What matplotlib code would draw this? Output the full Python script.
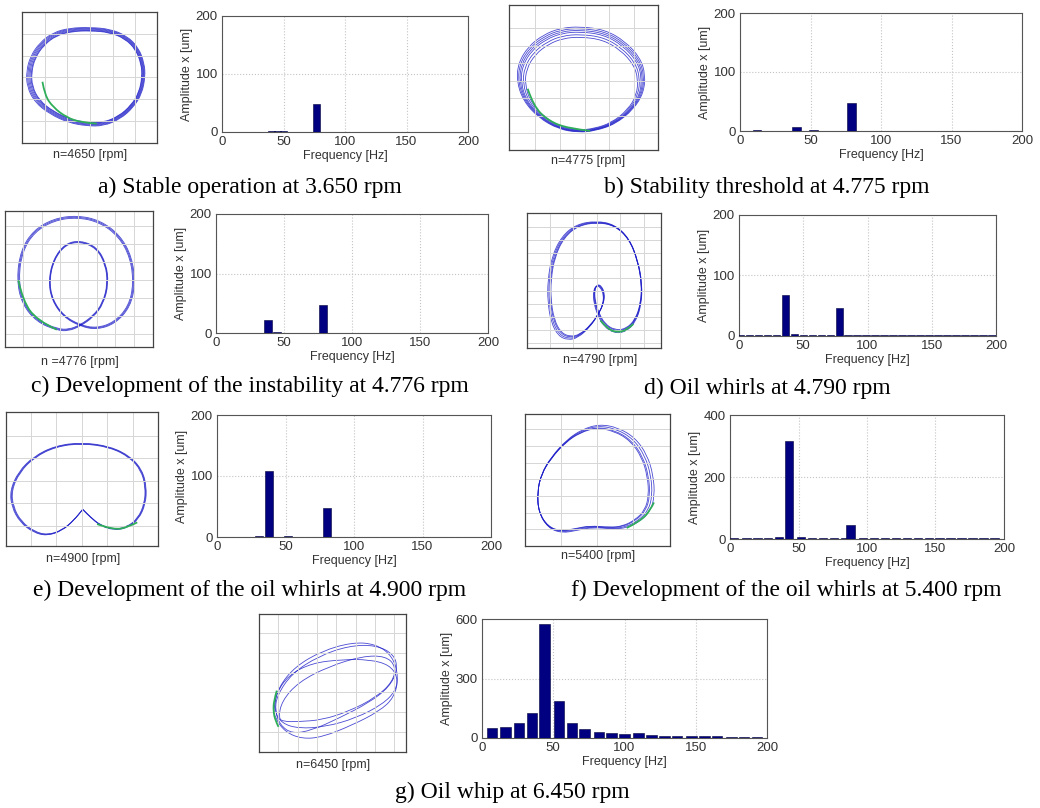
import numpy as np
import matplotlib
matplotlib.use("Agg")
import matplotlib.pyplot as plt
from matplotlib.path import Path
from matplotlib.patches import PathPatch

FIG_W, FIG_H = 1040, 808

# ---- spectrum data (frequency [Hz] / amplitude x [um]) ----
freq_a = [25, 30, 35, 40, 45, 50, 55, 77]
amp_a = [0.6, 0.8, 0.7, 1.2, 0.9, 1.2, 0.7, 48]

freq_b = [12, 40, 46, 52, 79]
amp_b = [1.0, 6, 0.8, 1.0, 48]

freq_c = [3, 10, 17, 24, 31, 38, 45, 52, 59, 66, 73, 79, 87, 94, 101, 108, 115,
          122, 129, 136, 143, 150, 157, 164, 171, 178, 185, 192, 198]
amp_c = [0.6, 0.6, 0.6, 0.7, 0.8, 22, 0.9, 0.7, 0.6, 0.6, 0.7, 47, 0.7, 0.6, 0.6,
         0.6, 0.6, 0.6, 0.6, 0.6, 0.6, 0.6, 0.6, 0.6, 0.6, 0.6, 0.6, 0.6, 0.6]

freq_d = [1, 8, 15, 22, 29, 36, 43, 50, 57, 64, 71, 78, 85, 92, 99, 106, 113,
          120, 127, 134, 141, 148, 155, 162, 169, 176, 183, 190, 197]
amp_d = [1.0, 1.0, 1.0, 1.8, 1.8, 67, 2.5, 1.0, 1.0, 1.0, 1.0, 47, 1.2, 1.0, 1.0,
         1.0, 1.0, 1.0, 1.0, 1.0, 1.0, 1.0, 1.0, 1.0, 1.0, 1.0, 1.0, 1.0, 1.0]

freq_e = [3, 10, 17, 24, 31, 38, 45, 52, 59, 66, 73, 80, 87, 94, 101, 108, 115,
          122, 129, 136, 143, 150, 157, 164, 171, 178, 185, 192, 198]
amp_e = [0.6, 0.6, 0.6, 0.6, 1.2, 109, 0.8, 1.2, 0.6, 0.6, 0.6, 47, 0.6, 0.6, 0.6,
         0.6, 0.6, 0.6, 0.6, 0.6, 0.6, 0.6, 0.6, 0.6, 0.6, 0.6, 0.6, 0.6, 0.6]

freq_f = [3, 12, 20, 28, 36, 43, 52, 60, 68, 76, 84, 88, 97, 105, 113, 121, 129,
          137, 145, 153, 161, 169, 177, 185, 193]
amp_f = [2, 4, 2, 3, 5, 317, 6, 3, 2, 2, 2, 44, 2, 2, 2, 2, 2,
         2, 2, 2, 2, 2, 2, 2, 2]

freq_g = [7, 16.5, 26, 35, 44, 54, 63, 72, 82, 91, 100, 110, 119, 128, 137, 147,
          156, 165, 175, 184, 193]
amp_g = [52, 57, 78, 128, 573, 189, 74, 46, 32, 25, 19, 27, 14, 12, 10, 10,
         8, 8, 7, 7, 5]

# ---- orbit traces (picture units, y downwards) ----
# closed loops, last point joins the first; a doubled point is a sharp corner
orbit_a_x = [270, 330, 380, 415, 432, 435, 425, 400, 360, 310, 260, 205, 150, 105, 82, 80, 92, 120, 160, 210]
orbit_a_y = [85, 90, 110, 145, 190, 230, 280, 320, 355, 375, 375, 365, 340, 305, 260, 215, 170, 130, 100, 87]
green_a_x = [128, 135, 160, 200, 245, 290]
green_a_y = [245, 285, 320, 350, 365, 368]

orbit_b_x = [235, 310, 370, 415, 430, 425, 395, 340, 280, 230, 170, 110, 65, 45, 50, 80, 125, 175]
orbit_b_y = [70, 80, 115, 165, 215, 270, 320, 365, 385, 390, 380, 345, 295, 235, 180, 130, 95, 75]
green_b_x = [78, 95, 140, 200, 265]
green_b_y = [258, 310, 355, 378, 385]

orbit_c_x = [240, 280, 310, 325, 318, 290, 240, 195, 160, 145, 155, 190, 240, 290, 345, 390, 405, 395,
             360, 300, 230, 160, 100, 62, 50, 65, 110, 170, 205]
orbit_c_y = [378, 350, 310, 250, 190, 140, 120, 130, 175, 240, 300, 350, 378, 388, 370, 320, 250, 170,
             105, 60, 45, 55, 90, 150, 235, 310, 365, 390, 392]
green_c_x = [55, 68, 110, 170]
green_c_y = [240, 300, 360, 388]

orbit_d_x = [240, 228, 226, 235, 248, 258, 255, 240, 215, 180, 150, 120, 98, 88, 88, 100, 130, 175, 235,
             290, 335, 362, 375, 372, 355, 325, 290, 258]
orbit_d_y = [320, 285, 250, 233, 238, 260, 290, 320, 355, 385, 392, 380, 340, 280, 220, 150, 90, 55, 45,
             55, 95, 160, 230, 290, 340, 368, 372, 352]
green_d_x = [248, 270, 300, 330, 348]
green_d_y = [335, 360, 370, 362, 345]

orbit_e_x = [247, 247, 270, 300, 340, 380, 415, 435, 438, 425, 390, 330, 245, 165, 100, 55, 30, 35, 60, 100, 140, 185, 220]
orbit_e_y = [307, 307, 330, 355, 368, 362, 335, 290, 240, 190, 150, 120, 108, 118, 150, 195, 250, 300, 345, 375, 385, 370, 340]
green_e_x = [290, 340, 385, 410]
green_e_y = [350, 368, 358, 345]

orbit_f_x = [290, 345, 395, 430, 448, 452, 440, 410, 370, 330, 270, 225, 180, 140, 112, 108, 120, 150, 195, 240]
orbit_f_y = [70, 80, 110, 160, 220, 280, 325, 355, 375, 378, 373, 382, 390, 375, 330, 270, 215, 165, 115, 85]
green_f_x = [370, 410, 440, 450]
green_f_y = [375, 355, 322, 300]

# oil whip: several precessing loops
orbit_g1_x = [55, 70, 120, 200, 290, 360, 410, 428, 415, 370, 290, 200, 140, 90, 60]
orbit_g1_y = [290, 230, 170, 125, 100, 105, 140, 200, 260, 300, 340, 375, 380, 360, 320]
orbit_g2_x = [58, 62, 100, 170, 260, 340, 400, 425, 420, 380, 300, 210, 130, 80]
orbit_g2_y = [300, 250, 195, 160, 150, 150, 165, 200, 240, 280, 320, 345, 350, 335]
orbit_g3_x = [65, 110, 190, 280, 360, 415, 425, 400, 340, 250, 170, 110, 75, 60]
orbit_g3_y = [255, 190, 140, 110, 108, 135, 180, 230, 275, 320, 355, 365, 340, 300]
orbit_g4_x = [70, 80, 130, 220, 320, 390, 420, 410, 360, 280, 200, 130, 85]
orbit_g4_y = [320, 270, 215, 170, 140, 140, 170, 215, 260, 300, 325, 330, 330]
green_g_x = [65, 56, 55, 60, 70]
green_g_y = [240, 270, 300, 325, 345]

speed_labels = ["n=4650 [rpm]", "n=4775 [rpm]", "n =4776 [rpm]", "n=4790 [rpm]",
                "n=4900 [rpm]", "n=5400 [rpm]", "n=6450 [rpm]"]
captions = ["a) Stable operation at 3.650 rpm",
            "b) Stability threshold at 4.775 rpm",
            "c) Development of the instability at 4.776 rpm",
            "d) Oil whirls at 4.790 rpm",
            "e) Development of the oil whirls at 4.900 rpm",
            "f) Development of the oil whirls at 5.400 rpm",
            "g) Oil whip at 6.450 rpm"]

BLUE = "#1c1cc8"
GREEN = "#2fae5a"
NAVY = "#000080"
TXT = "#333333"
SANS = ["Liberation Sans", "DejaVu Sans"]
SERIF = ["Liberation Serif", "DejaVu Serif"]


def px_axes(fig, box):
    # box = (left, top, right, bottom) in pixels of the 1040x808 figure
    x0, y0, x1, y1 = box
    return fig.add_axes([x0 / FIG_W, 1 - y1 / FIG_H, (x1 - x0) / FIG_W, (y1 - y0) / FIG_H])


def loop_path(pts, closed=True):
    # quadratic bezier path with the traced points as control points
    pts = np.asarray(pts, float)
    if closed:
        mids = (pts + np.roll(pts, -1, axis=0)) / 2
        verts = [mids[-1]]
        codes = [Path.MOVETO]
        for i in range(len(pts)):
            verts += [pts[i], mids[i]]
            codes += [Path.CURVE3, Path.CURVE3]
    else:
        verts = [pts[0]]
        codes = [Path.MOVETO]
        for i in range(1, len(pts) - 1):
            end = pts[i + 1] if i == len(pts) - 2 else (pts[i] + pts[i + 1]) / 2
            verts += [pts[i], end]
            codes += [Path.CURVE3, Path.CURVE3]
    return Path(verts, codes)


def draw_spectrum(ax, freq, amp, ymax, width):
    ax.bar(freq, amp, width=width, color=NAVY, edgecolor="#00003a", linewidth=0.4, zorder=3)
    ax.set_xlim(0, 200)
    ax.set_ylim(0, ymax)
    ax.set_xticks([0, 50, 100, 150, 200])
    ax.set_yticks([0, ymax // 2, ymax])
    ax.grid(True, color="#c4c4c4", linestyle=":", linewidth=0.8)
    ax.tick_params(length=0, labelsize=9.5, colors=TXT, pad=3)
    for lab in ax.get_xticklabels() + ax.get_yticklabels():
        lab.set_family(SANS)
    ax.set_xlabel("Frequency [Hz]", fontsize=9, labelpad=1, color=TXT, family=SANS)
    ax.set_ylabel("Amplitude x [um]", fontsize=9, labelpad=2, color=TXT, family=SANS)
    for s in ax.spines.values():
        s.set_color("#555555")
        s.set_linewidth(0.8)


def draw_orbit(ax, lim, grid, loops, green, passes, anchor):
    x0, x1, y0, y1 = lim
    gx0, gxs, gy0, gys = grid
    ax.set_xlim(x0, x1)
    ax.set_ylim(y1, y0)   # traced in picture coordinates, y grows downwards
    ax.set_xticks(np.arange(gx0, x1 - 5, gxs))
    ax.set_yticks(np.arange(gy0, y1 - 5, gys))
    ax.grid(True, color="#d6d6d6", linewidth=0.7)
    ax.tick_params(length=0, labelbottom=False, labelleft=False)
    for s in ax.spines.values():
        s.set_color("#444444")
        s.set_linewidth(0.9)
    anc = np.asarray(anchor, float)
    for xs, ys in loops:
        pts = np.column_stack([xs, ys]).astype(float)
        # repeated revolutions of the shaft, slightly drifting
        for k in passes:
            p = loop_path(anc + (pts - anc) * k)
            ax.add_patch(PathPatch(p, fill=False, edgecolor=BLUE, linewidth=0.6, alpha=0.8))
    gp = loop_path(np.column_stack(green), closed=False)
    ax.add_patch(PathPatch(gp, fill=False, edgecolor=GREEN, linewidth=1.3, zorder=4))


fig = plt.figure(figsize=(FIG_W / 100, FIG_H / 100), dpi=100)

# (orbit box, spectrum box, orbit label position, caption position)
layout = [
    ((22, 12, 157, 143), (222, 16, 468, 132), (90, 155), (250, 187)),
    ((509, 5, 658, 150), (740, 13, 1022, 131), (588, 161), (767, 187)),
    ((5, 211, 153, 347), (216, 214, 488, 333), (80, 362), (250, 386)),
    ((527, 213, 661, 348), (739, 215, 996, 336), (600, 360), (767, 388)),
    ((6, 412, 158, 546), (217, 415, 491, 537), (83, 559), (250, 590)),
    ((525, 414, 670, 546), (730, 415, 1004, 539), (598, 556), (786, 590)),
    ((259, 614, 406, 752), (482, 619, 767, 738), (333, 765), (512, 792)),
]

orbits = [
    ((67, 470, 40, 425), (135, 67.5, 104, 64), [(orbit_a_x, orbit_a_y)], (green_a_x, green_a_y),
     [1.0, 0.985, 0.97, 0.955, 0.94, 0.93], (300, 230)),
    ((22, 468, 5, 443), (100, 74, 75, 53), [(orbit_b_x, orbit_b_y)], (green_b_x, green_b_y),
     [1.0, 0.98, 0.96, 0.94, 0.91, 0.88], (250, 330)),
    ((15, 458, 32, 440), (70, 55, 77, 54), [(orbit_c_x, orbit_c_y)], (green_c_x, green_c_y),
     [1.0, 0.985, 0.97], (230, 240)),
    ((25, 432, 22, 415), (95, 71, 62, 37.5), [(orbit_d_x, orbit_d_y)], (green_d_x, green_d_y),
     [1.0, 0.985, 0.97, 0.96], (330, 150)),
    ((18, 472, 18, 415), (92, 76, 88, 67), [(orbit_e_x, orbit_e_y)], (green_e_x, green_e_y),
     [1.0, 0.99, 0.98], (260, 250)),
    ((72, 497, 40, 428), (178, 106, 85, 49), [(orbit_f_x, orbit_f_y)], (green_f_x, green_f_y),
     [1.0, 0.98, 0.96, 0.95], (110, 280)),
    ((12, 450, 18, 418), (70, 57.5, 73, 57.5),
     [(orbit_g1_x, orbit_g1_y), (orbit_g2_x, orbit_g2_y), (orbit_g3_x, orbit_g3_y), (orbit_g4_x, orbit_g4_y)],
     (green_g_x, green_g_y), [1.0], (240, 240)),
]

spectra = [
    (freq_a, amp_a, 200, 5.8),
    (freq_b, amp_b, 200, 6.0),
    (freq_c, amp_c, 200, 5.8),
    (freq_d, amp_d, 200, 5.8),
    (freq_e, amp_e, 200, 5.8),
    (freq_f, amp_f, 400, 6.0),
    (freq_g, amp_g, 600, 7.4),
]

for i in range(7):
    obox, sbox, lpos, cpos = layout[i]
    oax = px_axes(fig, obox)
    draw_orbit(oax, *orbits[i])
    sax = px_axes(fig, sbox)
    draw_spectrum(sax, *spectra[i])
    fig.text(lpos[0] / FIG_W, 1 - lpos[1] / FIG_H, speed_labels[i], ha="center", va="center",
             fontsize=9, color=TXT, family=SANS)
    fig.text(cpos[0] / FIG_W, 1 - cpos[1] / FIG_H, captions[i], ha="center", va="center",
             fontsize=17, color="black", family=SERIF)

fig.savefig("out.png", dpi=100)
